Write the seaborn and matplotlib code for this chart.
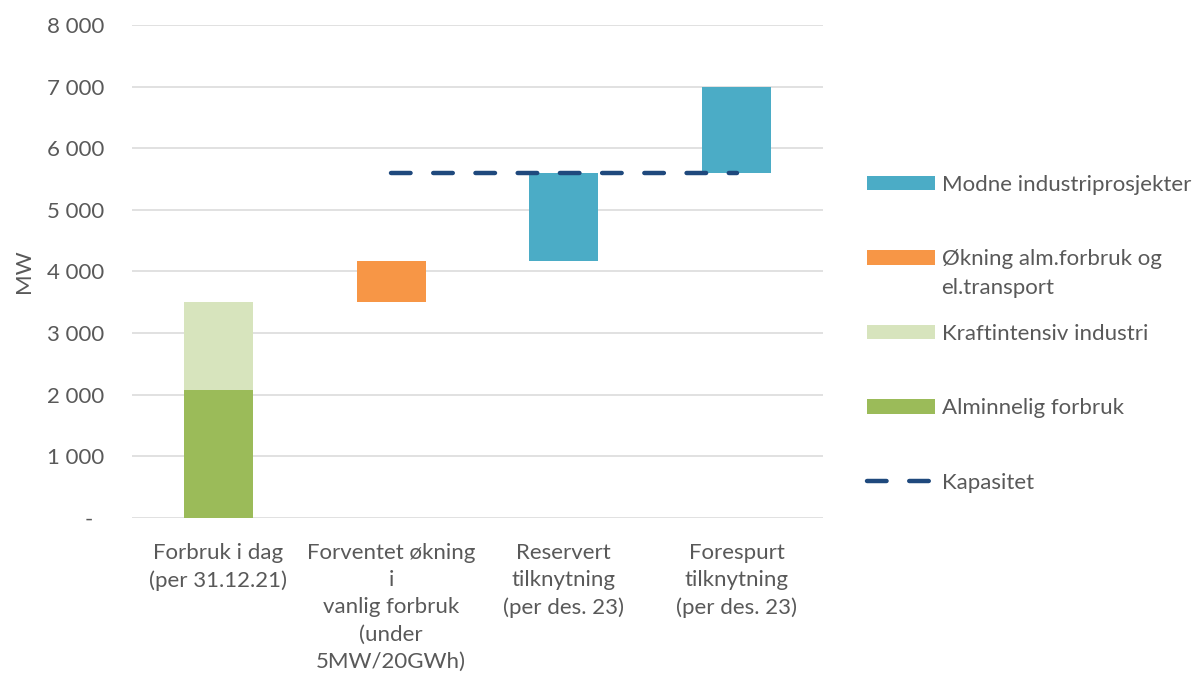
import matplotlib
matplotlib.use("Agg")
import matplotlib.pyplot as plt
import matplotlib.transforms as mtransforms
import seaborn as sns
import pandas as pd

# ---------------- data ----------------
categories = [
    "Forbruk i dag\n(per 31.12.21)",
    "Forventet økning\ni\nvanlig forbruk\n(under\n5MW/20GWh)",
    "Reservert\ntilknytning\n(per des. 23)",
    "Forespurt\ntilknytning\n(per des. 23)",
]

alminnelig_cats = [0]
alminnelig_bottom = [0]
alminnelig_values = [2070]

kraftintensiv_cats = [0]
kraftintensiv_bottom = [2070]
kraftintensiv_values = [1430]

okning_cats = [1]
okning_bottom = [3500]
okning_values = [670]

modne_cats = [2, 3]
modne_bottom = [4170, 5600]
modne_values = [1430, 1400]

kapasitet_cats = [1, 2, 3]
kapasitet_values = [5600, 5600, 5600]

yticks = [0, 1000, 2000, 3000, 4000, 5000, 6000, 7000, 8000]
ytick_labels = ["-", "1 000", "2 000", "3 000", "4 000", "5 000", "6 000", "7 000", "8 000"]

legend_order = ["Modne industriprosjekter", "Økning alm.forbruk og",
                "Kraftintensiv industri", "Alminnelig forbruk", "Kapasitet"]
legend_extra_line = "el.transport"

# ---------------- style ----------------
sns.set_style("white")
plt.rcParams["font.family"] = ["Lato", "DejaVu Sans"]
TXT = "#595959"
FS = 16
W, H = 1193, 675

fig = plt.figure(figsize=(W / 100, H / 100), dpi=100)
ax = fig.add_axes([0.11065, 0.2326, 0.5792, 0.7304])

series = [
    ("Alminnelig forbruk", alminnelig_cats, alminnelig_bottom, alminnelig_values, "#9BBB59"),
    ("Kraftintensiv industri", kraftintensiv_cats, kraftintensiv_bottom, kraftintensiv_values, "#D7E4BD"),
    ("Økning alm.forbruk og", okning_cats, okning_bottom, okning_values, "#F79646"),
    ("Modne industriprosjekter", modne_cats, modne_bottom, modne_values, "#4BACC6"),
]

for name, cats, bottoms, vals, col in series:
    df = pd.DataFrame({"kategori": [categories[i] for i in cats], "MW": vals})
    sns.barplot(data=df, x="kategori", y="MW", order=categories, color=col,
                saturation=1, width=0.4, errorbar=None, bottom=bottoms,
                linewidth=0, label=name, ax=ax)

sns.lineplot(x=kapasitet_cats, y=kapasitet_values, ax=ax, color="#1F497D",
             linewidth=3.2, linestyle=(0, (4.4, 5.1)), dash_capstyle="round",
             label="Kapasitet", legend=False, zorder=5)
if ax.get_legend() is not None:
    ax.get_legend().remove()

ax.set_xlim(-0.5, 3.5)
ax.set_ylim(0, 8000)
ax.set_yticks(yticks)
ax.set_yticklabels(ytick_labels)
ax.set_xticks(range(len(categories)))
ax.set_xticklabels(categories, linespacing=1.45)
ax.set_xlabel("")
ax.set_ylabel("MW", fontsize=FS, color=TXT)
ax.yaxis.set_label_coords(-0.142, 0.5)

for s in ax.spines.values():
    s.set_visible(False)
ax.yaxis.grid(True, color="#D9D9D9", linewidth=1.1)
ax.xaxis.grid(False)
ax.set_axisbelow(True)
ax.tick_params(axis="both", length=0, labelsize=FS, labelcolor=TXT)
ax.tick_params(axis="x", pad=18)
ax.tick_params(axis="y", pad=20)

# shift the "-" zero label a bit left (accounting style)
zero_lbl = ax.get_yticklabels()[0]
zero_lbl.set_transform(zero_lbl.get_transform() +
                       mtransforms.ScaledTranslation(-8 / 72, 0, fig.dpi_scale_trans))

# ---------------- legend ----------------
h, l = ax.get_legend_handles_labels()
hmap = dict(zip(l, h))
handles = [hmap[k] for k in legend_order]
leg = fig.legend(handles, legend_order, loc="upper left",
                 bbox_to_anchor=(0.7267, 0.741), frameon=False, fontsize=FS,
                 labelcolor=TXT, handlelength=3.06, handleheight=0.63,
                 handletextpad=0.3, labelspacing=2.45, borderpad=0,
                 borderaxespad=0)

fig.canvas.draw()
bb = leg.get_texts()[1].get_window_extent()
fig.text(bb.x0 / W, (bb.y0 - 29) / H, legend_extra_line, ha="left",
         va="bottom", fontsize=FS, color=TXT)

fig.savefig("out.png", dpi=100)
